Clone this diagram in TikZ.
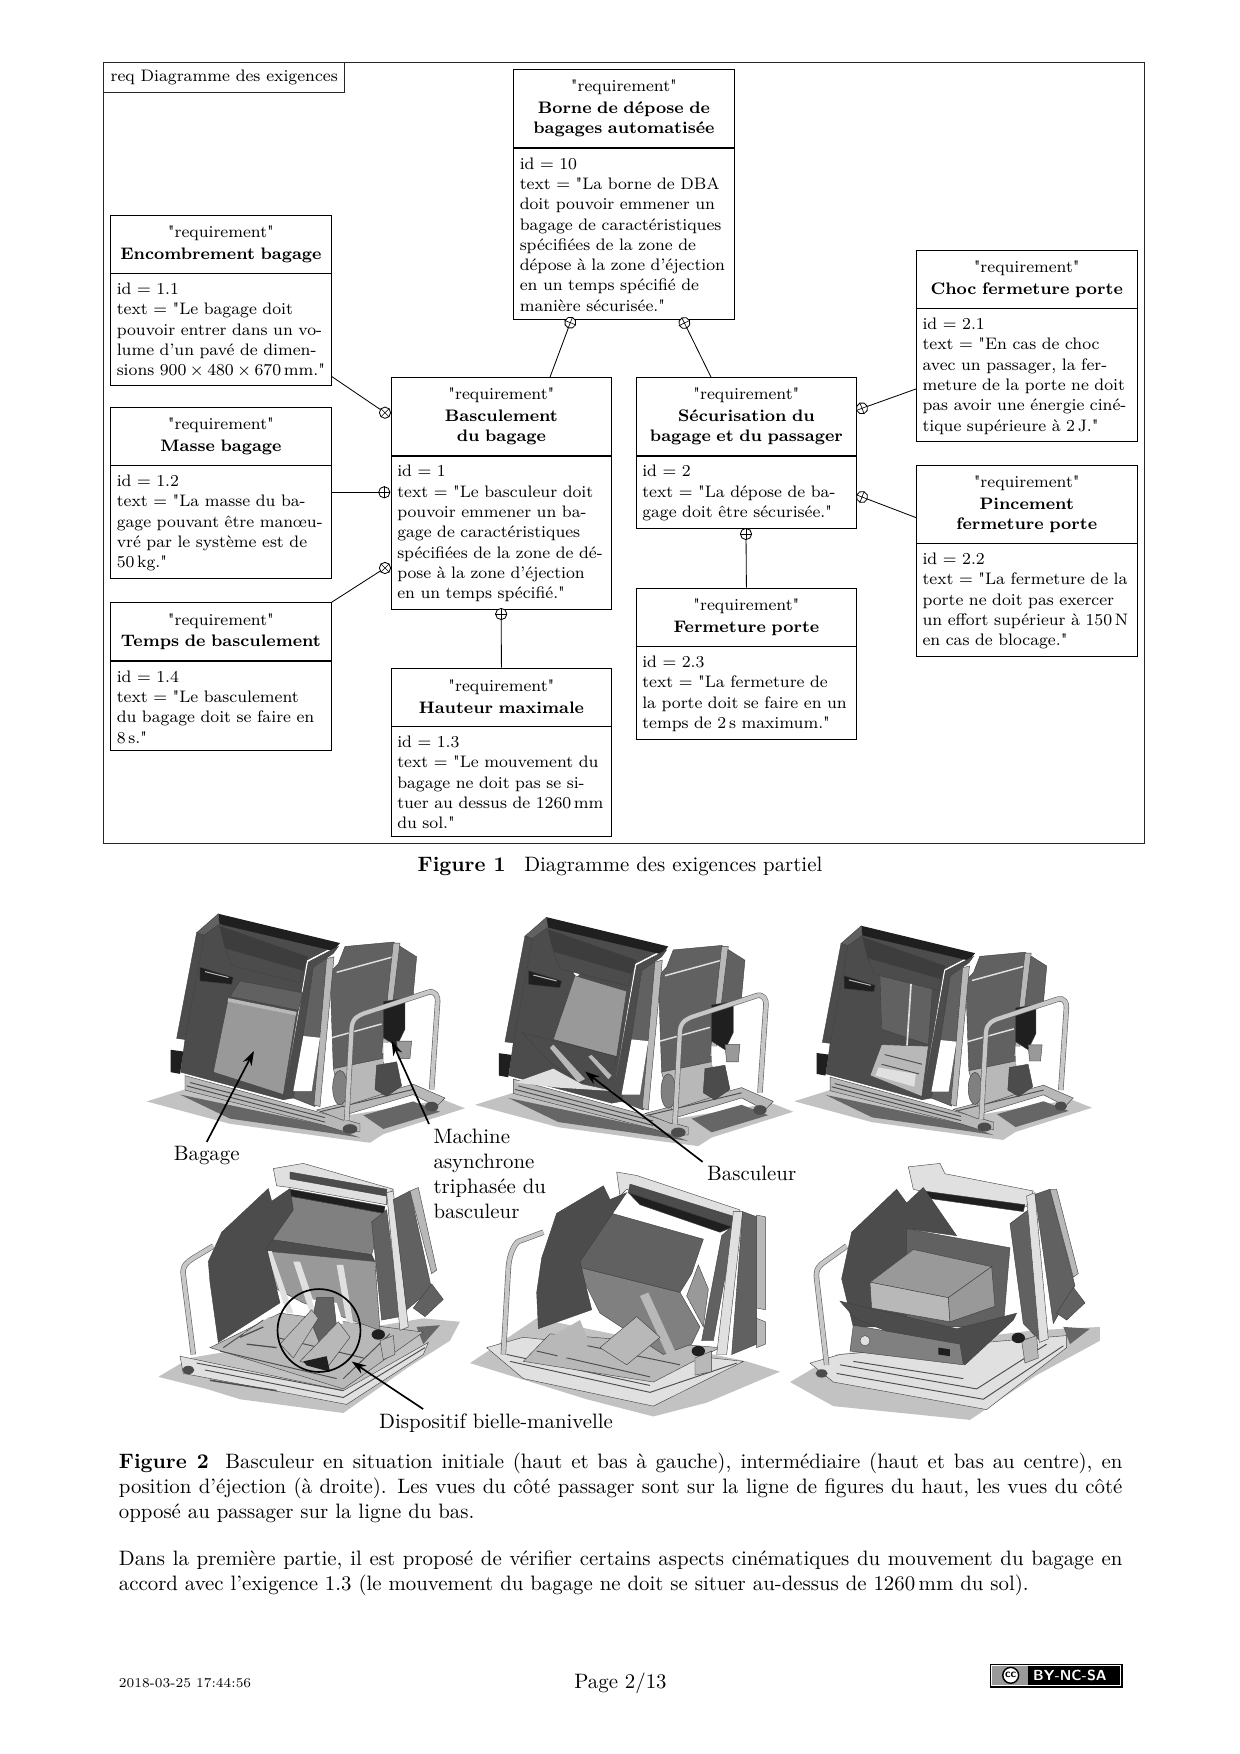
\documentclass[tikz,border=0pt]{standalone}
\usepackage{fontspec}
\usepackage{amsmath}
\usepackage{tikz}
\usetikzlibrary{arrows.meta,calc}
\newfontfamily\quotefont{Latin Modern Roman}[Ligatures=TeXOff]
\newcommand{\q}{{\quotefont\symbol{34}}}
\definecolor{MachBlack}{gray}{0.12}
\definecolor{MachDark}{gray}{0.30}
\definecolor{MachDeep}{gray}{0.38}
\definecolor{MachMid}{gray}{0.50}
\definecolor{MachBag}{gray}{0.60}
\definecolor{MachLight}{gray}{0.72}
\definecolor{MachPale}{gray}{0.88}
\definecolor{MachShadow}{gray}{0.76}
\definecolor{MachShade}{gray}{0.40}
\tikzset{
  part/.style={draw=black!75,line width=.2pt},
  pipe/.style={draw=black!60,double=black!22,double distance=2pt,line width=.3pt},
  rail/.style={draw=MachDark,line width=.45pt},
}
% cabinet seen from the passenger side, behind and in front of its contents
\newcommand{\machineback}{
  \fill[MachShadow] (50,585) -- (165,550) -- (560,640) -- (940,580) -- (1005,605) -- (760,680) -- (720,705) -- (640,695) -- (300,650) -- cycle;
  \fill[MachShade] (150,565) -- (590,655) -- (690,690) -- (610,678) -- (300,635) -- cycle;
  \fill[MachShade] (700,625) -- (850,585) -- (930,615) -- (760,665) -- cycle;
  \filldraw[part,fill=MachLight] (165,510) -- (600,625) -- (690,650) -- (690,672) -- (650,675) -- (585,655) -- (165,552) -- cycle;
  \draw[rail] (180,530) -- (585,632) (170,540) -- (585,645);
  \filldraw[part,fill=MachLight] (560,610) -- (640,590) -- (850,535) -- (945,575) -- (920,600) -- (850,565) -- (660,620) -- (640,640) -- cycle;
  \draw[rail] (570,615) -- (850,550);
  \filldraw[part,fill=MachDeep] (645,135) -- (790,122) -- (860,165) -- (850,270) -- (855,285) -- (790,290) -- (760,460) -- (610,490) -- (600,210) -- (625,185) -- cycle;
  \draw[MachPale,line width=.7pt] (620,210) -- (790,165) (605,400) -- (755,360);
  \filldraw[part,fill=MachLight] (790,125) -- (810,125) -- (770,445) -- (755,445) -- cycle;
  \filldraw[part,fill=MachLight] (610,490) -- (760,460) -- (770,560) -- (640,600) -- cycle;
  \filldraw[part,fill=MachMid] (630,545) ellipse (22 and 50);
  \filldraw[part,fill=MachDark] (222,102) -- (265,70) -- (620,130) -- (530,175) -- (460,580) -- (152,500) -- (165,405) -- cycle;
}
\newcommand{\machinefront}{
  \fill[MachDark!80!black] (268,75) -- (535,165) -- (520,205) -- (285,140) -- cycle;
  \filldraw[part,fill=MachDark] (285,140) -- (520,205) -- (510,240) -- (305,190) -- cycle;
  \fill[MachBlack] (265,40) -- (630,125) -- (610,148) -- (268,70) -- cycle;
  \filldraw[part,fill=MachDeep] (200,95) -- (265,40) -- (268,70) -- (222,102) -- cycle;
  \filldraw[part,fill=MachDark] (200,95) -- (222,102) -- (165,405) -- (140,402) -- cycle;
  \fill[MachBlack] (122,435) -- (160,440) -- (150,505) -- (122,500) -- cycle;
  \filldraw[part,fill=MachBlack] (210,195) -- (310,225) -- (305,245) -- (210,235) -- cycle;
  \draw[MachLight,line width=.5pt] (225,208) -- (295,225);
  \filldraw[part,fill=MachDeep] (550,195) -- (590,170) -- (555,600) -- (490,575) -- cycle;
  \filldraw[part,fill=MachDark] (535,180) -- (625,135) -- (610,155) -- (550,195) -- (490,575) -- (460,580) -- cycle;
  \filldraw[part,fill=MachLight] (590,170) -- (612,165) -- (570,600) -- (552,595) -- cycle;
  \fill[white] (520,395) -- (570,400) -- (545,555) -- (490,555) -- cycle;
  \filldraw[part,fill=MachBlack] (760,295) -- (825,285) -- (825,375) -- (800,425) -- (760,400) -- cycle;
  \fill[white] (760,415) -- (782,415) -- (780,470) -- (760,470) -- cycle;
  \filldraw[part,fill=MachBag] (800,410) -- (845,410) -- (840,460) -- (805,460) -- cycle;
  \filldraw[part,fill=MachDark] (740,480) -- (800,470) -- (815,540) -- (770,570) -- (735,550) -- cycle;
  \draw[pipe] (650,640) -- (665,370) .. controls (668,340) and (690,335) .. (700,330) -- (895,268) .. controls (915,262) and (925,280) .. (923,295) -- (905,550);
  \fill[MachDark] (660,665) ellipse (22 and 14) (905,600) ellipse (20 and 14);
}
\begin{document}
\begin{tikzpicture}[x=.48pt,y=-.48pt,
  reqframe/.style={draw=black!85,line width=.5pt,anchor=north west,minimum width=499.6pt,minimum height=374.6pt,inner sep=0pt},
  reqtab/.style={draw=black!85,line width=.5pt,anchor=north west,font=\footnotesize,minimum width=115.5pt,minimum height=14.3pt,inner xsep=3.4pt,inner ysep=0pt,align=left},
  reqhead/.style={draw,anchor=north west,text width=100pt,inner xsep=2.9pt,inner ysep=0pt,align=center,font=\fontsize{8}{9.75}\selectfont,minimum height=27.8pt,execute at end node={\rule[-.8pt]{0pt}{.8pt}}},
  reqbody/.style={draw,anchor=north west,text width=100pt,inner xsep=2.9pt,inner ysep=3.6pt,align=left,font=\fontsize{8}{9.75}\selectfont,execute at begin node={\rule{0pt}{6.3pt}}},
  contain/.style={circle,draw,fill=white,inner sep=0pt,minimum size=5.4pt,rotate=#1},
  contain/.default=0,
  callout/.style={-{Stealth[length=7pt,width=4.6pt]},line width=.8pt},
  photolabel/.style={font=\normalsize,inner sep=2pt,align=left},
  textline/.style={anchor=north west,text width=481.7pt,inner sep=0pt,align=justify,font=\normalsize},
]
\useasboundingbox (0,0) rectangle (1240,1754);
\fill[white] (0,0) rectangle (1240,1754);

% diagramme des exigences
\node[reqframe] (frame) at (103,62.3) {};
\node[reqtab] (tab) at (103,62.3) {req Diagramme des exigences};

\node[reqhead,minimum height=37.4pt] (bornehead) at (513.3,69.3) {\q requirement\q\\[.7pt]\textbf{Borne de dépose de}\\\textbf{bagages automatisée}};
\node[reqbody] (bornebody) at (bornehead.south west) {id = 10\\text = \q La borne de DBA\\doit pouvoir emmener un\\bagage de caractéristiques\\spécifiées de la zone de\\dépose à la zone d’éjection\\en un temps spécifié de\\manière sécurisée.\q};

\node[reqhead] (enchead) at (110.3,214.7) {\q requirement\q\\[.7pt]\textbf{Encombrement bagage}};
\node[reqbody] (encbody) at (enchead.south west) {id = 1.1\\text = \q Le bagage doit\\pouvoir entrer dans un vo-\\lume d’un pavé de dimen-\\sions $900\times480\times670$\,mm.\q};

\node[reqhead] (massehead) at (110.3,406.7) {\q requirement\q\\[.7pt]\textbf{Masse bagage}};
\node[reqbody] (massebody) at (massehead.south west) {id = 1.2\\text = \q La masse du ba-\\gage pouvant être manœu-\\vré par le système est de\\50\,kg.\q};

\node[reqhead] (tempshead) at (110.3,602.3) {\q requirement\q\\[.7pt]\textbf{Temps de basculement}};
\node[reqbody] (tempsbody) at (tempshead.south west) {id = 1.4\\text = \q Le basculement\\du bagage doit se faire en\\8\,s.\q};

\node[reqhead,minimum height=37.4pt] (bashead) at (390.8,377) {\q requirement\q\\[.7pt]\textbf{Basculement}\\\textbf{du bagage}};
\node[reqbody] (basbody) at (bashead.south west) {id = 1\\text = \q Le basculeur doit\\pouvoir emmener un ba-\\gage de caractéristiques\\spécifiées de la zone de dé-\\pose à la zone d’éjection\\en un temps spécifié.\q};

\node[reqhead] (hauthead) at (390.8,667.7) {\q requirement\q\\[.7pt]\textbf{Hauteur maximale}};
\node[reqbody] (hautbody) at (hauthead.south west) {id = 1.3\\text = \q Le mouvement du\\bagage ne doit pas se si-\\tuer au dessus de 1260\,mm\\du sol.\q};

\node[reqhead,minimum height=37.4pt] (sechead) at (635.8,377) {\q requirement\q\\[.7pt]\textbf{Sécurisation du}\\\textbf{bagage et du passager}};
\node[reqbody] (secbody) at (sechead.south west) {id = 2\\text = \q La dépose de ba-\\gage doit être sécurisée.\q};

\node[reqhead] (fermhead) at (635.8,587.7) {\q requirement\q\\[.7pt]\textbf{Fermeture porte}};
\node[reqbody] (fermbody) at (fermhead.south west) {id = 2.3\\text = \q La fermeture de\\la porte doit se faire en un\\temps de 2\,s maximum.\q};

\node[reqhead] (chochead) at (916.1,249.7) {\q requirement\q\\[.7pt]\textbf{Choc fermeture porte}};
\node[reqbody] (chocbody) at (chochead.south west) {id = 2.1\\text = \q En cas de choc\\avec un passager, la fer-\\meture de la porte ne doit\\pas avoir une énergie ciné-\\tique supérieure à 2\,J.\q};

\node[reqhead,minimum height=37.4pt] (pinchead) at (916.1,464.7) {\q requirement\q\\[.7pt]\textbf{Pincement}\\\textbf{fermeture porte}};
\node[reqbody] (pincbody) at (pinchead.south west) {id = 2.2\\text = \q La fermeture de la\\porte ne doit pas exercer\\un effort supérieur à 150\,N\\en cas de blocage.\q};

\node[contain=-22] (mbas) at (570.3,322.7) {};
\node[contain=26] (msec) at (684.4,323) {};
\node[contain=-45] (menc) at (385,412.7) {};
\node[contain] (mmasse) at (384.3,492.3) {};
\node[contain=45] (mtemps) at (385,568) {};
\node[contain] (mhaut) at (501.2,614) {};
\node[contain=21] (mchoc) at (862,408.3) {};
\node[contain=-21] (mpinc) at (862,497) {};
\node[contain] (mferm) at (746,534) {};
\foreach \m in {mbas,msec,menc,mmasse,mtemps,mhaut,mchoc,mpinc,mferm}
  \draw[line width=.3pt] (\m.north) -- (\m.south) (\m.west) -- (\m.east);

\draw (bashead.39.5) -- (mbas);
\draw (sechead.132.6) -- (msec);
\draw (encbody.-23.6) -- (menc);
\draw (massebody.east |- mmasse) -- (mmasse);
\draw (tempshead.north east) -- (mtemps);
\draw (hauthead.north) -- (mhaut);
\draw (chocbody.187) -- (mchoc);
\draw (pinchead.187.2) -- (mpinc);
\draw (fermhead.north) -- (mferm);

\node[font=\normalsize] (cap1) at (620,866) {\textbf{Figure 1}\hspace{.9em}Diagramme des exigences partiel};

% vue du haut, bagage
\begin{scope}[shift={(130,900)},xscale=.3333,yscale=.3443]
  \machineback
  \filldraw[part,fill=MachDeep] (330,235) -- (520,270) -- (505,320) -- (300,280) -- cycle;
  \filldraw[part,fill=MachBag] (295,285) -- (500,325) -- (460,565) -- (250,500) -- cycle;
  \fill[MachLight] (295,285) -- (500,325) -- (498,335) -- (293,295) -- cycle;
  \machinefront
\end{scope}

% vue du haut, basculeur incline
\begin{scope}[shift={(458.3,903.4)},xscale=.3333,yscale=.3443]
  \machineback
  \fill[white] (345,165) -- (385,180) -- (355,215) -- (345,200) -- cycle;
  \filldraw[part,fill=MachBag] (350,210) -- (505,255) -- (475,445) -- (285,395) -- cycle;
  \filldraw[part,fill=MachDark] (190,375) -- (475,445) -- (465,480) -- (370,520) -- (285,470) -- cycle;
  \fill[MachLight] (285,410) -- (380,510) -- (360,520) -- (275,420) -- cycle;
  \fill[MachLight] (400,440) -- (460,500) -- (450,510) -- (390,445) -- cycle;
  \fill[MachPale] (170,520) -- (285,480) -- (370,525) -- (465,545) -- (300,535) -- cycle;
  \machinefront
\end{scope}

% vue du haut, position d'ejection
\begin{scope}[shift={(778.7,912.9)},xscale=.3117,yscale=.322]
  \machineback
  \filldraw[part,fill=MachDeep] (324,168) -- (496,200) -- (480,409) -- (330,361) -- cycle;
  \draw[MachPale,line width=.8pt] (427,185) -- (411,420);
  \filldraw[part,fill=MachLight] (330,409) -- (480,414) -- (459,570) -- (293,505) -- cycle;
  \fill[MachPale] (320,480) -- (440,500) -- (435,540) -- (310,505) -- cycle;
  \draw[rail] (340,440) -- (460,470) (330,470) -- (450,500);
  \machinefront
\end{scope}

% vue du bas, situation initiale
\begin{scope}[shift={(130,900)},xscale=.3333,yscale=.3443]
  \fill[MachShadow] (85,1385) -- (180,1330) -- (880,1215) -- (990,1225) -- (960,1280) -- (830,1360) -- (640,1490) -- (330,1450) -- (230,1420) -- cycle;
  \fill[MachShade] (860,1240) -- (930,1235) -- (880,1290) -- cycle;
  \filldraw[part,fill=MachPale] (150,1325) -- (640,1425) -- (895,1285) -- (880,1320) -- (650,1465) -- (160,1375) -- cycle;
  \draw[rail] (225,1365) -- (640,1445) -- (885,1300) (200,1345) -- (640,1425);
  \draw[MachDark,line width=.7pt] (240,1395) -- (440,1425);
  \filldraw[part,fill=MachLight] (240,1300) -- (450,1200) -- (880,1255) -- (640,1420) -- cycle;
  \draw[rail] (270,1310) -- (620,1390) (350,1250) -- (700,1330) (400,1220) -- (280,1300) (780,1260) -- (640,1390);
  \fill[MachDark] (175,1365) ellipse (18 and 12);
  \draw[pipe] (190,1320) -- (160,1090) .. controls (155,1060) and (175,1050) .. (190,1040) -- (250,1005);
  \filldraw[part,fill=MachPale] (430,780) -- (520,765) -- (790,840) -- (770,860) -- (770,885) -- (480,835) -- (440,830) -- cycle;
  \filldraw[part,fill=MachDark] (480,790) -- (770,840) -- (770,860) -- (480,810) -- cycle;
  \filldraw[part,fill=MachMid] (480,860) -- (760,910) -- (725,1030) -- (415,985) -- cycle;
  \filldraw[part,fill=MachBlack] (480,840) -- (765,890) -- (762,910) -- (480,860) -- cycle;
  \filldraw[part,fill=MachDark] (415,985) -- (725,1030) -- (735,1050) -- (410,1020) -- cycle;
  \filldraw[part,fill=MachBag] (410,1020) -- (735,1050) -- (750,1250) -- (520,1170) -- (440,1130) -- cycle;
  \fill[MachPale] (490,1050) -- (510,1050) -- (570,1220) -- (545,1215) -- cycle;
  \fill[MachPale] (620,1060) -- (640,1060) -- (670,1230) -- (650,1225) -- cycle;
  \fill[MachPale] (410,1020) -- (425,1020) -- (490,1200) -- (470,1200) -- cycle;
  \filldraw[part,fill=MachDark] (235,1050) -- (275,965) -- (415,838) -- (425,875) -- (480,838) -- (490,900) -- (410,1010) -- (450,1170) -- (265,1285) -- (240,1110) -- cycle;
  \filldraw[part,fill=MachDeep] (725,935) -- (770,900) -- (810,1210) -- (755,1220) -- cycle;
  \filldraw[part,fill=MachPale] (770,850) -- (790,845) -- (835,1240) -- (810,1250) -- cycle;
  \filldraw[part,fill=MachDeep] (790,870) -- (840,845) -- (905,1130) -- (830,1190) -- cycle;
  \filldraw[part,fill=MachLight] (840,845) -- (865,835) -- (920,1075) -- (905,1085) -- cycle;
  \filldraw[part,fill=MachDeep] (905,1115) -- (940,1160) -- (885,1210) -- (850,1185) -- cycle;
  \fill[white] (545,1160) -- (620,1170) -- (640,1230) -- (570,1230) -- cycle;
  \filldraw[part,fill=MachDeep] (560,1155) -- (610,1155) -- (620,1240) -- (570,1290) -- (545,1230) -- cycle;
  \filldraw[part,fill=MachLight] (450,1290) -- (545,1190) -- (565,1215) -- (490,1330) -- cycle;
  \filldraw[part,fill=MachLight] (510,1340) -- (625,1225) -- (660,1270) -- (590,1360) -- cycle;
  \fill[MachBlack] (520,1340) -- (590,1325) -- (600,1370) -- (530,1352) -- cycle;
  \fill[MachBlack] (745,1262) ellipse (20 and 15);
  \filldraw[part,fill=MachLight] (750,1280) -- (790,1265) -- (795,1320) -- (760,1335) -- cycle;
  \fill[MachLight] (340,1260) -- (420,1210) -- (445,1270) -- (350,1320) -- cycle;
  \draw[MachDark,line width=.6pt] (350,1290) -- (440,1300) (330,1270) -- (400,1240);
\end{scope}

% vue du bas, situation intermediaire
\begin{scope}[shift={(620,900)},xscale=.3333,yscale=.3443]
  \fill[MachShadow] (-450,1345) -- (-250,1215) -- (380,1340) -- (480,1370) -- (260,1460) -- (100,1500) -- (-100,1450) -- cycle;
  \filldraw[part,fill=MachPale] (-400,1300) -- (-290,1270) -- (370,1340) -- (100,1470) -- (-290,1390) -- cycle;
  \draw[rail] (-330,1340) -- (90,1430) -- (350,1345) (-340,1320) -- (90,1410);
  \filldraw[part,fill=MachLight] (-210,1260) -- (300,1300) -- (100,1400) -- (-290,1340) -- cycle;
  \draw[rail] (-250,1310) -- (90,1385) (-170,1280) -- (180,1350);
  \draw[pipe] (-350,1320) -- (-335,1070) .. controls (-332,1020) and (-310,990) .. (-300,990) -- (-230,965);
  \filldraw[part,fill=MachPale] (-10,790) -- (50,800) -- (360,900) -- (340,945) -- (100,870) -- (20,840) -- (0,860) -- cycle;
  \filldraw[part,fill=MachDark] (30,825) -- (345,920) -- (338,950) -- (25,850) -- cycle;
  \filldraw[part,fill=MachBlack] (25,850) -- (338,950) -- (300,965) -- (60,885) -- cycle;
  \filldraw[part,fill=MachBag] (235,1060) -- (265,1130) -- (250,1240) -- (200,1150) -- cycle;
  \filldraw[part,fill=MachDeep] (-80,895) -- (250,985) -- (215,1085) -- (180,1140) -- (-130,1065) -- cycle;
  \filldraw[part,fill=MachMid] (-130,1065) -- (180,1140) -- (240,1240) -- (215,1290) -- (130,1320) -- (-60,1200) -- cycle;
  \fill[MachLight] (85,1140) -- (170,1320) -- (145,1330) -- (60,1150) -- cycle;
  \filldraw[part,fill=MachDark] (-235,1040) -- (-190,910) -- (-50,830) -- (-30,870) -- (20,850) -- (-120,1050) -- (-85,1190) -- (-245,1245) -- (-250,1140) -- cycle;
  \filldraw[part,fill=MachLight] (-60,1300) -- (50,1210) -- (120,1270) -- (20,1350) -- cycle;
  \fill[MachLight] (-210,1270) -- (-120,1220) -- (-90,1290) -- (-180,1340) -- cycle;
  \filldraw[part,fill=MachDeep] (305,975) -- (345,940) -- (280,1280) -- (245,1280) -- cycle;
  \filldraw[part,fill=MachPale] (340,905) -- (368,905) -- (320,1320) -- (290,1320) -- cycle;
  \filldraw[part,fill=MachDeep] (368,905) -- (410,920) -- (410,1290) -- (335,1320) -- cycle;
  \filldraw[part,fill=MachLight] (410,915) -- (436,920) -- (436,1190) -- (410,1185) -- cycle;
  \filldraw[part,fill=MachLight] (410,1215) -- (436,1225) -- (436,1290) -- (410,1300) -- cycle;
  \filldraw[part,fill=MachLight] (225,1330) -- (275,1310) -- (275,1370) -- (225,1380) -- cycle;
  \fill[MachBlack] (235,1310) ellipse (20 and 15);
\end{scope}

% vue du bas, position d'ejection
\begin{scope}[shift={(620,900)},xscale=.3333,yscale=.3443]
  \fill[MachShadow] (510,1400) -- (650,1320) -- (1240,1250) -- (1440,1240) -- (1440,1280) -- (1250,1380) -- (1050,1510) -- (640,1470) -- cycle;
  \fill[MachShade] (1330,1240) -- (1410,1245) -- (1350,1290) -- cycle;
  \filldraw[part,fill=MachPale] (570,1345) -- (660,1320) -- (1340,1265) -- (1340,1300) -- (1100,1480) -- (640,1400) -- cycle;
  \draw[rail] (650,1375) -- (1090,1450) -- (1330,1295) (660,1350) -- (1070,1420) (700,1340) -- (1030,1390) (1070,1420) -- (1280,1290);
  \fill[MachDark] (605,1375) ellipse (18 and 12);
  \draw[pipe] (620,1350) -- (590,1100) .. controls (586,1070) and (600,1060) .. (615,1050) -- (680,1005);
  \filldraw[part,fill=MachPale] (865,775) -- (960,765) -- (975,795) -- (1240,845) -- (1220,890) -- (900,845) -- (880,840) -- cycle;
  \filldraw[part,fill=MachBlack] (910,845) -- (1215,885) -- (1210,905) -- (915,865) -- cycle;
  \filldraw[part,fill=MachDark] (665,1100) -- (695,965) -- (830,840) -- (860,880) -- (910,835) -- (1010,975) -- (860,955) -- (860,1240) -- (700,1240) -- cycle;
  \filldraw[part,fill=MachDeep] (860,955) -- (1170,1010) -- (1150,1240) -- (860,1240) -- cycle;
  \filldraw[part,fill=MachBag] (750,1110) -- (880,1015) -- (1115,1065) -- (985,1155) -- cycle;
  \filldraw[part,fill=MachLight] (750,1110) -- (985,1155) -- (990,1225) -- (755,1185) -- cycle;
  \filldraw[part,fill=MachBag] (985,1155) -- (1115,1065) -- (1125,1180) -- (990,1225) -- cycle;
  \filldraw[part,fill=MachDark] (660,1165) -- (1010,1245) -- (1190,1200) -- (1180,1220) -- (1035,1350) -- (1020,1340) -- (705,1215) -- cycle;
  \filldraw[part,fill=MachMid] (700,1235) -- (1020,1290) -- (1030,1350) -- (690,1310) -- cycle;
  \filldraw[part,fill=MachPale] (735,1280) circle (15);
  \fill[MachBlack] (955,1300) -- (990,1305) -- (990,1325) -- (955,1320) -- cycle;
  \filldraw[part,fill=MachDeep] (1170,940) -- (1225,900) -- (1260,1280) -- (1210,1230) -- cycle;
  \filldraw[part,fill=MachPale] (1220,860) -- (1245,850) -- (1285,1275) -- (1258,1285) -- cycle;
  \filldraw[part,fill=MachDeep] (1245,855) -- (1290,840) -- (1365,1120) -- (1300,1230) -- cycle;
  \filldraw[part,fill=MachLight] (1290,840) -- (1310,840) -- (1375,1085) -- (1360,1095) -- cycle;
  \filldraw[part,fill=MachDeep] (1360,1125) -- (1395,1170) -- (1340,1220) -- (1310,1200) -- cycle;
  \filldraw[part,fill=MachLight] (1205,1280) -- (1250,1265) -- (1255,1330) -- (1215,1345) -- cycle;
  \fill[MachBlack] (1195,1272) ellipse (20 and 15);
\end{scope}

% annotations des photos
\coordinate (tipbag) at (254,1051);
\coordinate (tipmach) at (391.7,1041);
\coordinate (tipbasc) at (585,1071.5);
\coordinate (tipdisp) at (351.7,1361.5);
\node[photolabel] (labbag) at (206.7,1155.8) {Bagage};
\node[photolabel,anchor=north west] (labmach) at (429,1124) {Machine\\asynchrone\\triphasée du\\basculeur};
\node[photolabel] (labbasc) at (751.7,1173.8) {Basculeur};
\node[photolabel] (labdisp) at (496,1423) {Dispositif bielle-manivelle};
\node[draw,circle,line width=.8pt,minimum size=39.8pt,inner sep=0pt] (zoomdisc) at (319,1330.5) {};
\draw[callout] (labbag.north) -- (tipbag);
\draw[callout] (labmach.north west) -- (tipmach);
\draw[callout] (labbasc.north west) -- (tipbasc);
\draw[callout] ($(labdisp.north west)!.2!(labdisp.north east)$) -- (tipdisp);

% legende et texte
\node[textline] (cap2) at (118.5,1452.5) {\textbf{Figure 2}\hspace{.8em}Basculeur en situation initiale (haut et bas à gauche), intermédiaire (haut et bas au centre), en\linebreak position d’éjection (à droite). Les vues du côté passager sont sur la ligne de figures du haut, les vues du côté\linebreak opposé au passager sur la ligne du bas.};
\node[textline] (para) at (118.5,1550.5) {Dans la première partie, il est proposé de vérifier certains aspects cinématiques du mouvement du bagage en\linebreak accord avec l’exigence 1.3 (le mouvement du bagage ne doit se situer au-dessus de 1260\,mm du sol).};

% pied de page
\node[anchor=west,font=\fontsize{6.5}{8}\selectfont,inner sep=0pt] (stamp) at (118.5,1683.5) {2018-03-25 17:44:56};
\node[font=\normalsize,inner sep=0pt] (pagenum) at (620.5,1683) {Page 2/13};
\node[draw=black,line width=.5pt,fill=black,anchor=north west,minimum width=63.4pt,minimum height=11.2pt,inner sep=0pt] (badge) at (989.7,1663.7) {};
\fill[black!40] (992,1666) rectangle (1028,1685);
\draw[white,line width=.3pt] (991,1665) rectangle (1120.5,1685.7);
\node[circle,draw=black,fill=white,line width=.7pt,inner sep=.6pt,text=black,font=\sffamily\bfseries\fontsize{5.5}{6}\selectfont] (ccmark) at (1010.7,1675.3) {cc};
\node[anchor=west,text=white,inner sep=0pt,font=\sffamily\bfseries\fontsize{7}{8}\selectfont] (cclabel) at (1032.7,1675.3) {BY-NC-SA};
\end{tikzpicture}
\end{document}
